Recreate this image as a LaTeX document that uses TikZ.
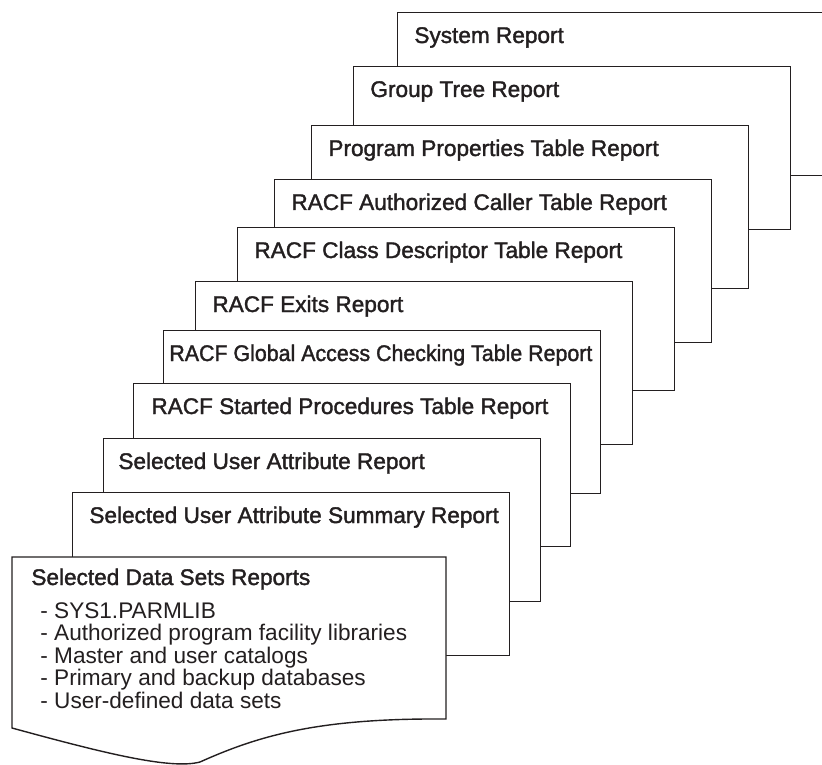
\documentclass[tikz,border=0pt]{standalone}
\usepackage{fontspec}
\setmainfont{Liberation Sans}
\newfontfamily\headfont[FakeBold=1.6]{Liberation Sans}
\usetikzlibrary{positioning}
\definecolor{inkgray}{RGB}{35,31,32}

\tikzset{
  page/.style={rectangle, draw=inkgray, fill=white, line width=0.7pt, anchor=north west,
    minimum width=218.5pt, minimum height=81.5pt, inner sep=0pt},
  heading/.style={anchor=base west, inner sep=0pt, text=inkgray, font=\headfont\fontsize{11.3}{13}\selectfont},
  item/.style={anchor=base west, inner sep=0pt, text=inkgray, font=\fontsize{11.3}{13}\selectfont}
}

\begin{document}
\begin{tikzpicture}[x=0.5pt, y=-0.5pt]
    \useasboundingbox (0,0) rectangle (822,764);
    \clip (0,0) rectangle (822,764);

    % Stack of report pages, back to front
    \node[page] (system) at (397,12) {};
    \node[heading] (systemtxt) at (414,43) {System Report};
    \node[page] (grouptree) at (353,66) {};
    \node[heading] (grouptreetxt) at (370,97) {Group Tree Report};
    \node[page] (progprops) at (311,125) {};
    \node[heading] (progpropstxt) at (328,156) {Program Properties Table Report};
    \node[page] (authcaller) at (274,179) {};
    \node[heading] (authcallertxt) at (291,210) {RACF Authorized Caller Table Report};
    \node[page] (classdesc) at (237,227) {};
    \node[heading] (classdesctxt) at (254,258) {RACF Class Descriptor Table Report};
    \node[page] (exits) at (195,281) {};
    \node[heading] (exitstxt) at (212,312) {RACF Exits Report};
    \node[page] (globalacc) at (163,330) {};
    \node[heading, xscale=0.946, transform shape] (globalacctxt) at (169,361) {RACF Global Access Checking Table Report};
    \node[page] (startproc) at (133,383) {};
    \node[heading] (startproctxt) at (151,414) {RACF Started Procedures Table Report};
    \node[page] (userattr) at (103,438) {};
    \node[heading] (userattrtxt) at (118,469) {Selected User Attribute Report};
    \node[page] (usersum) at (72,492) {};
    \node[heading] (usersumtxt) at (89,523) {Selected User Attribute Summary Report};

    % Front page with curled bottom edge
    \draw[draw=inkgray, fill=white, line width=0.7pt]
        (12,557) -- (446,557) -- (446,719)
        .. controls (320,718) and (260,735) .. (200,762)
        .. controls (170,770) and (100,752) .. (12,728) -- cycle;
    \node[heading] (datasets) at (31,585) {Selected Data Sets Reports};
    \node[item] (ds1) at (40,618) {- SYS1.PARMLIB};
    \node[item] (ds2) at (40,640.5) {- Authorized program facility libraries};
    \node[item] (ds3) at (40,663) {- Master and user catalogs};
    \node[item] (ds4) at (40,685.5) {- Primary and backup databases};
    \node[item] (ds5) at (40,708) {- User-defined data sets};
\end{tikzpicture}
\end{document}
